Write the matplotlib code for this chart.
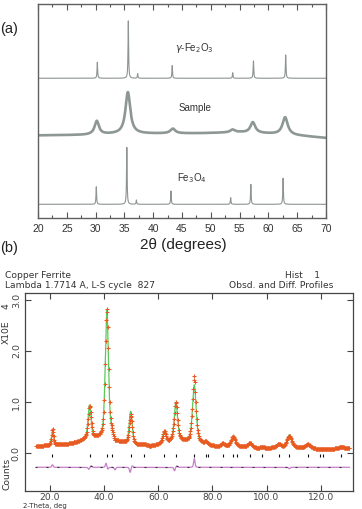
import numpy as np
import matplotlib
matplotlib.use('Agg')
import matplotlib.pyplot as plt
from matplotlib.ticker import MultipleLocator

W, H = 362, 509
DPI = 100

# ---------------- Panel (a) values ----------------
a_ticks = [20, 25, 30, 35, 40, 45, 50, 55, 60, 65, 70]
gfe_pos = [30.3, 35.68, 37.3, 43.3, 53.8, 57.4, 63.0]
gfe_amp = [7.5, 26.8, 2.1, 5.9, 2.6, 8.1, 10.9]
gfe_base = 65.3
fe3_pos = [30.12, 35.42, 37.08, 43.08, 53.45, 56.95, 62.55]
fe3_amp = [8.2, 26.6, 2.0, 6.2, 3.1, 9.3, 12.2]
fe3_base = 6.4
smp_pos = [30.2, 35.6, 43.4, 53.8, 57.3, 62.9]
smp_amp = [6.3, 19.5, 2.2, 1.3, 5.0, 8.2]
smp_fwhm = [0.9, 1.0, 1.0, 1.0, 1.0, 1.1]
smp_bg_x = [20, 28, 33, 38, 48, 55, 60, 66, 70]
smp_bg_y = [38.6, 38.8, 39.2, 39.4, 39.6, 40.0, 39.4, 38.3, 37.4]

# ---------------- Panel (b) values ----------------
b_xticks = [20, 40, 60, 80, 100, 120]
b_yticks = [0, 1, 2, 3]
pk_pos = [20.9, 34.6, 41.0, 42.8, 49.8, 54.8, 62.2, 66.5, 73.3, 77.6, 83.8,
          87.7, 93.9, 98.2, 104.5, 108.4, 115.3, 120.0, 127.5]
pk_amp = [0.27, 0.66, 2.55, 0.1, 0.64, 0.03, 0.23, 0.77, 1.14, 0.05, 0.06,
          0.2, 0.09, 0.02, 0.07, 0.25, 0.08, 0.01, 0.03]
pk_fwhm = [0.9, 1.3, 1.4, 1.2, 1.3, 1.3, 1.4, 1.5, 1.6, 1.6, 1.6,
           1.8, 1.8, 1.8, 2.0, 2.0, 2.2, 2.0, 2.0]
bg_x = [14, 20, 26, 30, 33, 37.5, 45, 52, 57, 64, 69.5, 77, 82, 90, 97, 103, 112, 120, 131]
bg_y = [0.13, 0.15, 0.17, 0.21, 0.26, 0.28, 0.2, 0.15, 0.13, 0.2, 0.22, 0.16, 0.12,
        0.12, 0.09, 0.1, 0.1, 0.07, 0.1]
dif_pos = [20.9, 34.3, 35.2, 40.7, 41.4, 44.0, 49.6, 50.4, 66.0, 66.8, 73.3, 108.4]
dif_amp = [0.05, -0.04, 0.03, 0.08, -0.04, -0.05, -0.1, 0.03, -0.07, 0.03, 0.17, -0.03]
dif_base = -0.28
refl_pos = [20.86, 34.8, 41.2, 42.8, 49.8, 54.8, 62.2, 66.5, 73.3, 77.6, 78.5,
            83.8, 87.7, 89.2, 93.9, 98.2, 104.7, 108.4, 115.4, 119.7, 121.0, 127.4]


def lor(x, c, a, w):
    return a / (1.0 + ((x - c) / (w / 2.0)) ** 2)


def pv(x, c, a, w, eta=0.55):
    g = a * np.exp(-4 * np.log(2) * ((x - c) / w) ** 2)
    return eta * lor(x, c, a, w) + (1 - eta) * g


fig = plt.figure(figsize=(W / DPI, H / DPI), dpi=DPI)
fig.patch.set_facecolor('white')


def ax_px(l, t, r, b):
    return fig.add_axes([l / W, 1 - b / H, (r - l) / W, (b - t) / H])


# ---------------- Panel (a) ----------------
axa = ax_px(38, 4, 326, 218)
xa = np.arange(20, 70.0001, 0.005)
gfe = gfe_base + sum(lor(xa, c, a, 0.12) for c, a in zip(gfe_pos, gfe_amp))
fe3 = fe3_base + sum(lor(xa, c, a, 0.12) for c, a in zip(fe3_pos, fe3_amp))
smp = np.interp(xa, smp_bg_x, smp_bg_y) + sum(lor(xa, c, a, w) for c, a, w in zip(smp_pos, smp_amp, smp_fwhm))
axa.plot(xa, gfe, color='#8e9393', lw=0.8)
axa.plot(xa, fe3, color='#8e9393', lw=0.8)
axa.plot(xa, smp, color='#8d9795', lw=1.9)
axa.set_xlim(20, 70)
axa.set_ylim(0, 100)
axa.set_yticks([])
axa.set_xticks(a_ticks)
axa.set_xticklabels([str(t) for t in a_ticks], fontsize=7.5, family='Liberation Sans', color='#333333')
axa.xaxis.set_minor_locator(MultipleLocator(2.5))
axa.tick_params(axis='x', which='major', direction='in', length=4, width=0.8, top=True,
                pad=4.5, colors='#555555', labelcolor='#333333')
axa.tick_params(axis='x', which='minor', direction='in', length=2.5, width=0.8, top=True, colors='#555555')
for s in axa.spines.values():
    s.set_color('#606060')
    s.set_linewidth(1.0)
axa.text(47.2, 79.5, r'$\gamma$-Fe$_2$O$_3$', fontsize=7, family='Liberation Sans', ha='center', va='center', color='#333333')
axa.text(47.2, 51.4, 'Sample', fontsize=7, family='Liberation Sans', ha='center', va='center', color='#333333')
axa.text(46.8, 18.7, r'Fe$_3$O$_4$', fontsize=7, family='Liberation Sans', ha='center', va='center', color='#333333')
fig.text(9.5 / W, 1 - 29 / H, '(a)', fontsize=10.5, family='Liberation Sans', ha='center', va='center', color='#222222')
fig.text(183 / W, 1 - 245 / H, '2θ (degrees)', fontsize=11, family='Liberation Sans', ha='center', va='center', color='#222222')
fig.text(9.5 / W, 1 - 248 / H, '(b)', fontsize=10.5, family='Liberation Sans', ha='center', va='center', color='#222222')

# ---------------- Panel (b) ----------------
axb = ax_px(25, 292.7, 353.3, 490.5)
xb = np.arange(15.0, 130.6, 0.01)
calc = np.interp(xb, bg_x, bg_y) + sum(pv(xb, c, a, w) for c, a, w in zip(pk_pos, pk_amp, pk_fwhm))
dev = sum(pv(xb, c, a, 0.6, 0.3) for c, a in zip(dif_pos, dif_amp))
obs = calc + dev
axb.plot(xb, calc, color='#5cc85c', lw=0.9, zorder=2)
step = 18
axb.plot(xb[::step], obs[::step], ls='none', marker='+', ms=3.4, mew=0.75, color='#e85a20', zorder=3)
axb.plot(xb, dif_base + dev, color='#c77fca', lw=0.9, zorder=3)
axb.plot(xb[::400], (dif_base + dev)[::400], ls='none', marker='_', ms=2, mew=0.8, color='#333333', zorder=4)
axb.vlines(refl_pos, -0.07, -0.01, color='#111111', lw=0.8, zorder=4)
axb.set_xlim(10.76, 132.04)
axb.set_ylim(-0.735, 3.143)
axb.set_xticks(b_xticks)
axb.set_xticklabels(['%.1f' % t for t in b_xticks], fontsize=6.6, family='DejaVu Sans', color='#444444')
axb.set_yticks(b_yticks)
axb.set_yticklabels(['%.1f' % t for t in b_yticks], fontsize=6.8, family='DejaVu Sans', color='#444444',
                    rotation=90, va='center')
axb.tick_params(direction='in', length=4.5, width=0.8, top=True, right=True, colors='#444444')
axb.tick_params(axis='x', pad=1.8)
axb.tick_params(axis='y', pad=3)
for s in axb.spines.values():
    s.set_color('#444444')
    s.set_linewidth(0.9)

tk = dict(fontsize=6.6, family='DejaVu Sans', color='#333333')
fig.text(5 / W, 1 - 275 / H, 'Copper Ferrite', ha='left', va='center', **tk)
fig.text(5 / W, 1 - 286 / H, 'Lambda 1.7714 A, L-S cycle  827', ha='left', va='center', **tk)
fig.text(285 / W, 1 - 275 / H, 'Hist    1', ha='left', va='center', **tk)
fig.text(333 / W, 1 - 286 / H, 'Obsd. and Diff. Profiles', ha='right', va='center', **tk)
fig.text(6 / W, 1 - 306 / H, '4', rotation=90, ha='center', va='center', **tk)
fig.text(6 / W, 1 - 332 / H, 'X10E', rotation=90, ha='center', va='center', **tk)
fig.text(7 / W, 1 - 474 / H, 'Counts', rotation=90, ha='center', va='center', **tk)
fig.text(23 / W, 0.3 / H, '2-Theta, deg', ha='left', va='bottom', fontsize=5.0, family='DejaVu Sans', color='#333333')

fig.savefig('out.png', dpi=DPI, facecolor='white')
